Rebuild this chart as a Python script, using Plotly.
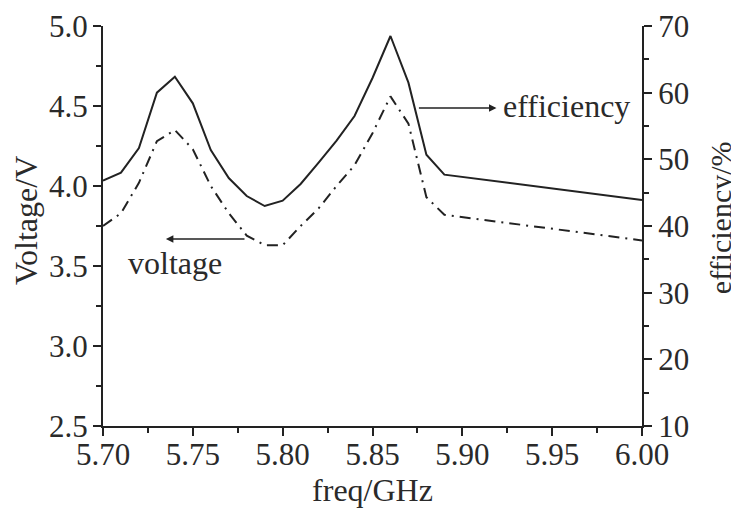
import plotly.graph_objects as go

freq = [5.70, 5.71, 5.72, 5.73, 5.74, 5.75, 5.76, 5.77, 5.78, 5.79, 5.80,
        5.81, 5.82, 5.83, 5.84, 5.85, 5.86, 5.87, 5.88, 5.89, 6.00]
efficiency = [46.8, 48.0, 51.7, 60.0, 62.4, 58.4, 51.4, 47.2, 44.5, 43.0, 43.8,
              46.3, 49.5, 52.8, 56.5, 62.2, 68.5, 61.5, 50.7, 47.7, 43.9]
voltage = [3.75, 3.83, 4.02, 4.28, 4.35, 4.23, 4.00, 3.83, 3.69, 3.63, 3.63,
           3.75, 3.86, 4.00, 4.13, 4.33, 4.56, 4.39, 3.93, 3.82, 3.66]

x_ticks = [5.70, 5.75, 5.80, 5.85, 5.90, 5.95, 6.00]
v_ticks = [2.5, 3.0, 3.5, 4.0, 4.5, 5.0]
e_ticks = [10, 20, 30, 40, 50, 60, 70]

FONT = "Liberation Serif"
INK = "#222222"
TXT = "#2a2a2a"

fig = go.Figure()
fig.add_trace(go.Scatter(x=freq, y=voltage, mode="lines", yaxis="y",
                         line=dict(color=INK, width=2, dash="11px,6px,2px,6px"),
                         name="voltage", showlegend=False))
fig.add_trace(go.Scatter(x=freq, y=efficiency, mode="lines", yaxis="y2",
                         line=dict(color=INK, width=2),
                         name="efficiency", showlegend=False))

axis_common = dict(showline=True, linecolor=INK, linewidth=2, ticks="outside",
                   tickcolor=INK, ticklen=8, tickwidth=1.5, showgrid=False,
                   zeroline=False, automargin=False,
                   tickfont=dict(family=FONT, size=31, color=TXT))

fig.update_layout(
    width=739, height=519,
    margin=dict(l=95, r=105, t=18, b=101),
    paper_bgcolor="white", plot_bgcolor="white",
    font=dict(family=FONT, size=31, color=TXT),
    xaxis=dict(range=[5.70, 6.00], tickvals=x_ticks, tickformat=".2f",
               minor=dict(ticks="outside", dtick=0.025, tick0=5.70, ticklen=5, tickcolor=INK),
               title=dict(text="freq/GHz", font=dict(family=FONT, size=32, color=TXT), standoff=2),
               ticklabelstandoff=-8,
               **axis_common),
    yaxis=dict(range=[2.5, 5.0], tickvals=v_ticks, tickformat=".1f",
               minor=dict(ticks="outside", dtick=0.25, tick0=2.5, ticklen=5, tickcolor=INK),
               ticklabelstandoff=-1,
               **axis_common),
    yaxis2=dict(range=[10, 70], tickvals=e_ticks, overlaying="y", side="right",
                minor=dict(ticks="outside", dtick=5, tick0=10, ticklen=5, tickcolor=INK),
                ticklabelstandoff=0,
                **axis_common),
)

# axis titles for the two y axes
fig.add_annotation(x=-0.143, y=0.515, xref="paper", yref="paper", text="Voltage/V",
                   textangle=-90, showarrow=False, xanchor="center", yanchor="middle",
                   font=dict(family=FONT, size=32, color=TXT))
fig.add_annotation(x=1.145, y=0.52, xref="paper", yref="paper", text="efficiency/%",
                   textangle=-90, showarrow=False, xanchor="center", yanchor="middle",
                   font=dict(family=FONT, size=30, color=TXT))

# arrow + label for efficiency (right axis)
fig.add_annotation(x=5.919, y=57.7, xref="x", yref="y2", ax=5.875, ay=57.7,
                   axref="x", ayref="y2", text="", showarrow=True,
                   arrowhead=2, arrowsize=1, arrowwidth=1.5, arrowcolor=INK)
fig.add_annotation(x=5.9577, y=58.0, xref="x", yref="y2", text="efficiency",
                   showarrow=False, font=dict(family=FONT, size=32, color=TXT))
# arrow + label for voltage (left axis)
fig.add_annotation(x=5.735, y=3.669, xref="x", yref="y", ax=5.7796, ay=3.669,
                   axref="x", ayref="y", text="", showarrow=True,
                   arrowhead=2, arrowsize=1, arrowwidth=1.5, arrowcolor=INK)
fig.add_annotation(x=5.740, y=3.52, xref="x", yref="y", text="voltage",
                   showarrow=False, font=dict(family=FONT, size=32, color=TXT))

fig.write_html("out.html")
